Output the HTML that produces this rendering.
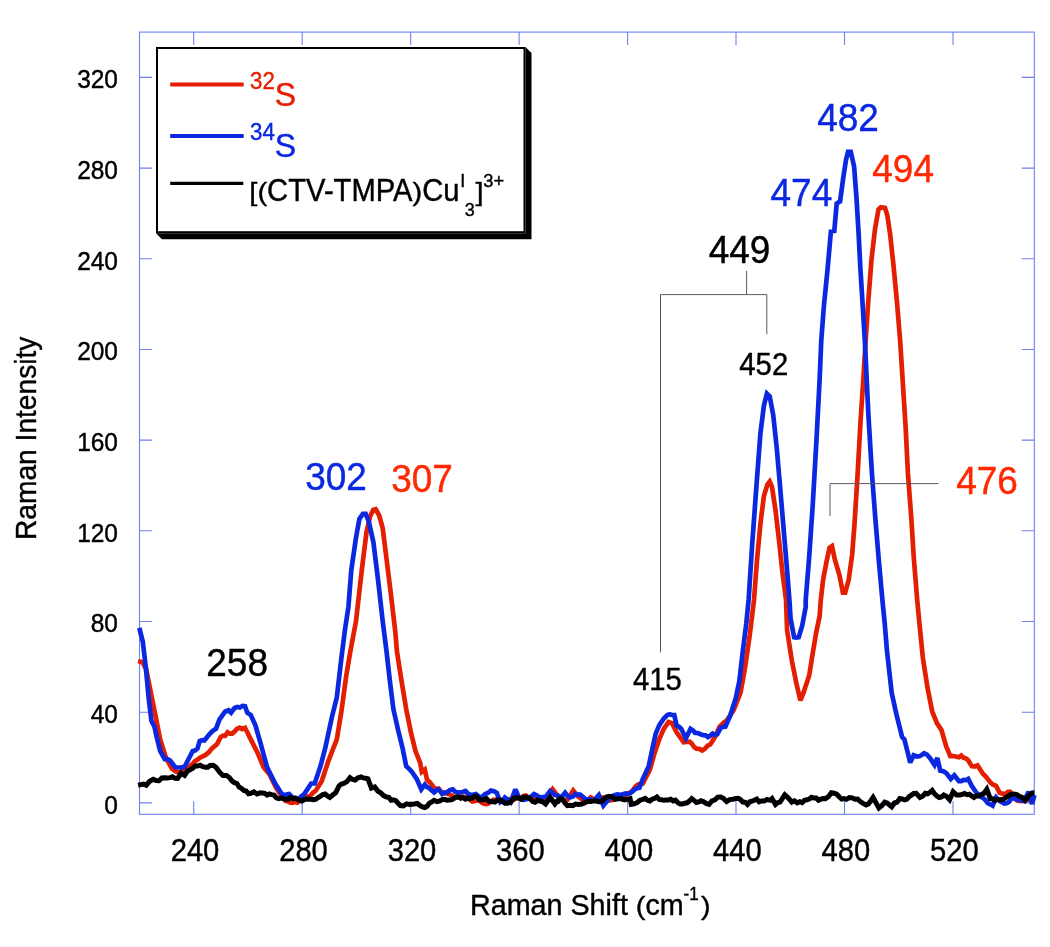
<!DOCTYPE html>
<html><head><meta charset="utf-8"><title>Raman spectra</title>
<style>
html,body{margin:0;padding:0;background:#fff;}
body{width:1050px;height:947px;overflow:hidden;}
text{stroke-width:0.4px;}
svg{display:block;font-family:"Liberation Sans",Arial,Helvetica,sans-serif;}
</style></head><body>
<svg width="1050" height="947" viewBox="0 0 1050 947">
<rect width="1050" height="947" fill="#fff"/>
<g stroke="#6c82f0" stroke-width="1.1" fill="none">
<rect x="139.5" y="32.1" width="894.8" height="782.2"/>
<path d="M193.7 32.1 v13 M193.7 814.3 v-13"/>
<path d="M302.2 32.1 v13 M302.2 814.3 v-13"/>
<path d="M410.7 32.1 v13 M410.7 814.3 v-13"/>
<path d="M519.1 32.1 v13 M519.1 814.3 v-13"/>
<path d="M627.6 32.1 v13 M627.6 814.3 v-13"/>
<path d="M736.0 32.1 v13 M736.0 814.3 v-13"/>
<path d="M844.5 32.1 v13 M844.5 814.3 v-13"/>
<path d="M953.0 32.1 v13 M953.0 814.3 v-13"/>
<path d="M139.5 802.9 h12.5 M1034.3 802.9 h-12.5"/>
<path d="M139.5 712.2 h12.5 M1034.3 712.2 h-12.5"/>
<path d="M139.5 621.5 h12.5 M1034.3 621.5 h-12.5"/>
<path d="M139.5 530.8 h12.5 M1034.3 530.8 h-12.5"/>
<path d="M139.5 440.1 h12.5 M1034.3 440.1 h-12.5"/>
<path d="M139.5 349.5 h12.5 M1034.3 349.5 h-12.5"/>
<path d="M139.5 258.8 h12.5 M1034.3 258.8 h-12.5"/>
<path d="M139.5 168.1 h12.5 M1034.3 168.1 h-12.5"/>
<path d="M139.5 77.4 h12.5 M1034.3 77.4 h-12.5"/>
</g>
<text transform="translate(118.0 813.8) scale(1 1.045)" font-size="24.5" fill="#000" stroke="#000" text-anchor="end">0</text>
<text transform="translate(118.0 723.1) scale(1 1.045)" font-size="24.5" fill="#000" stroke="#000" text-anchor="end">40</text>
<text transform="translate(118.0 632.4) scale(1 1.045)" font-size="24.5" fill="#000" stroke="#000" text-anchor="end">80</text>
<text transform="translate(118.0 541.7) scale(1 1.045)" font-size="24.5" fill="#000" stroke="#000" text-anchor="end">120</text>
<text transform="translate(118.0 451.0) scale(1 1.045)" font-size="24.5" fill="#000" stroke="#000" text-anchor="end">160</text>
<text transform="translate(118.0 360.4) scale(1 1.045)" font-size="24.5" fill="#000" stroke="#000" text-anchor="end">200</text>
<text transform="translate(118.0 269.7) scale(1 1.045)" font-size="24.5" fill="#000" stroke="#000" text-anchor="end">240</text>
<text transform="translate(118.0 179.0) scale(1 1.045)" font-size="24.5" fill="#000" stroke="#000" text-anchor="end">280</text>
<text transform="translate(118.0 88.3) scale(1 1.045)" font-size="24.5" fill="#000" stroke="#000" text-anchor="end">320</text>
<text transform="translate(195.0 861.1) scale(1 1.045)" font-size="29.2" fill="#000" stroke="#000" text-anchor="middle">240</text>
<text transform="translate(303.5 861.1) scale(1 1.045)" font-size="29.2" fill="#000" stroke="#000" text-anchor="middle">280</text>
<text transform="translate(412.0 861.1) scale(1 1.045)" font-size="29.2" fill="#000" stroke="#000" text-anchor="middle">320</text>
<text transform="translate(520.4 861.1) scale(1 1.045)" font-size="29.2" fill="#000" stroke="#000" text-anchor="middle">360</text>
<text transform="translate(628.9 861.1) scale(1 1.045)" font-size="29.2" fill="#000" stroke="#000" text-anchor="middle">400</text>
<text transform="translate(737.3 861.1) scale(1 1.045)" font-size="29.2" fill="#000" stroke="#000" text-anchor="middle">440</text>
<text transform="translate(845.8 861.1) scale(1 1.045)" font-size="29.2" fill="#000" stroke="#000" text-anchor="middle">480</text>
<text transform="translate(954.3 861.1) scale(1 1.045)" font-size="29.2" fill="#000" stroke="#000" text-anchor="middle">520</text>
<text transform="translate(36.2 438.3) rotate(-90) scale(1 1.045)" font-size="28.15" fill="#000" stroke="#000" text-anchor="middle">Raman Intensity</text>
<text transform="translate(470.0 914.6) scale(1 1.045)" font-size="28.7" fill="#000" stroke="#000">Raman Shift</text>
<text transform="translate(635.8 914.6) scale(1 0.930)" font-size="28.7" fill="#000" stroke="#000">(</text>
<text transform="translate(645.4 914.6) scale(1 1.045)" font-size="28.7" fill="#000" stroke="#000">cm</text>
<text transform="translate(683.5 899.7) scale(1 1.045)" font-size="17" fill="#000" stroke="#000">-1</text>
<text transform="translate(701.0 914.6) scale(1 0.930)" font-size="28.7" fill="#000" stroke="#000">)</text>
<g fill="none" stroke-linejoin="miter" stroke-miterlimit="2.5" stroke-linecap="butt">
<path d="M138.1 661.1 L140.5 661.8 L142.8 662.7 L146.3 669.7 L150.9 692.9 L155.6 716.2 L160.2 739.4 L166.0 758.0 L171.8 768.4 L174.1 770.3 L176.5 771.9 L179.2 772.4 L181.9 771.1 L184.6 770.7 L187.3 768.4 L190.0 766.3 L192.7 763.8 L195.0 761.2 L197.4 759.9 L199.7 758.0 L202.8 756.3 L205.9 754.7 L209.0 752.2 L211.7 748.6 L214.4 746.4 L217.1 744.0 L220.6 737.1 L222.9 735.7 L225.2 735.9 L227.6 732.4 L229.9 733.6 L232.2 733.6 L234.5 731.6 L236.9 728.9 L239.6 727.6 L242.3 729.1 L245.0 727.8 L250.8 739.4 L257.8 753.3 L263.6 767.3 L269.4 774.2 L276.4 788.2 L283.3 798.6 L285.6 800.9 L288.0 801.6 L290.3 802.6 L292.6 802.8 L294.9 801.9 L297.3 802.6 L300.2 800.2 L303.1 799.8 L305.4 798.7 L307.7 796.6 L310.0 796.3 L312.9 792.8 L315.9 790.5 L321.7 781.2 L328.6 760.3 L336.8 739.4 L341.4 711.5 L346.1 676.7 L350.0 653.4 L356.0 621.2 L361.8 570.1 L366.4 532.9 L369.9 516.7 L373.4 509.7 L375.7 509.2 L379.2 515.5 L382.7 528.3 L386.2 556.2 L390.8 593.3 L395.4 632.8 L396.9 651.1 L401.6 681.3 L406.2 709.2 L410.9 732.4 L415.5 751.0 L420.1 762.6 L421.8 771.9 L424.8 769.6 L427.1 780.0 L429.4 781.8 L431.8 784.7 L435.2 789.3 L438.7 788.6 L442.2 793.3 L444.5 792.6 L446.9 793.7 L449.2 794.0 L451.5 795.4 L453.8 797.0 L456.2 797.5 L458.5 796.6 L460.8 796.3 L463.1 797.0 L465.4 797.1 L467.8 797.5 L470.1 799.9 L472.4 801.6 L474.7 801.1 L477.1 800.3 L479.4 800.3 L481.7 802.5 L484.0 803.7 L486.4 804.0 L488.7 803.3 L491.0 801.6 L493.3 799.8 L496.4 799.6 L499.5 799.6 L502.6 800.3 L505.7 799.7 L508.8 799.1 L511.9 799.8 L514.2 799.5 L516.6 798.0 L518.9 797.5 L521.2 797.5 L523.5 796.0 L525.9 795.6 L528.2 798.1 L530.5 799.4 L532.8 800.3 L535.1 799.1 L537.5 799.4 L539.8 799.8 L542.1 799.8 L544.4 798.2 L546.8 797.5 L552.6 789.3 L556.1 794.0 L560.0 797.5 L561.6 798.6 L564.5 800.2 L567.4 799.8 L573.2 790.5 L577.9 796.3 L580.2 798.2 L582.5 799.6 L584.8 802.6 L587.8 800.3 L590.7 797.5 L593.6 799.2 L596.5 799.8 L598.8 798.6 L601.1 797.4 L603.4 797.5 L605.8 798.1 L608.1 800.3 L610.4 800.3 L612.7 799.8 L615.0 797.6 L617.4 797.5 L619.7 796.6 L622.0 795.9 L624.3 796.3 L627.2 793.7 L630.1 792.8 L633.1 789.9 L636.0 785.9 L638.3 784.4 L640.6 784.4 L642.9 783.5 L649.9 769.6 L654.5 753.3 L659.2 739.4 L663.8 728.9 L668.5 722.0 L672.0 723.1 L676.6 732.4 L683.6 742.2 L686.5 741.8 L689.4 741.7 L691.7 743.4 L694.0 746.8 L696.4 748.7 L699.3 748.9 L702.2 750.5 L704.9 748.8 L707.6 745.7 L710.3 744.5 L714.9 737.1 L719.6 726.6 L721.9 724.5 L724.2 722.2 L726.6 720.8 L733.5 710.3 L740.5 692.9 L745.1 667.4 L749.8 634.8 L754.0 600.0 L756.9 561.2 L760.4 524.0 L763.9 496.2 L767.4 484.5 L769.7 481.5 L772.0 486.9 L775.5 510.1 L779.0 540.3 L782.5 572.8 L786.0 600.0 L787.1 630.2 L791.8 660.4 L796.4 683.6 L800.4 700.4 L803.4 692.9 L809.2 675.5 L812.7 653.4 L816.2 632.5 L819.6 616.3 L820.8 600.0 L823.1 579.8 L826.6 561.2 L829.6 547.7 L832.0 546.1 L834.7 558.9 L839.4 575.1 L842.9 592.6 L845.2 592.6 L848.7 579.8 L852.2 554.2 L854.5 524.0 L857.7 472.9 L860.5 421.8 L863.3 380.0 L865.7 340.0 L868.3 301.2 L871.5 259.4 L875.0 229.2 L878.5 209.4 L880.8 207.3 L885.0 207.8 L887.3 215.2 L890.1 233.8 L893.6 266.4 L897.1 303.5 L900.1 340.0 L905.6 426.5 L907.9 472.9 L911.4 519.4 L913.7 556.6 L917.2 600.0 L919.4 623.2 L922.9 658.1 L927.6 688.3 L932.2 711.5 L936.9 723.1 L941.5 730.1 L946.2 746.4 L950.3 756.1 L953.5 756.0 L956.6 756.8 L958.9 757.2 L961.3 755.6 L963.6 757.8 L965.9 758.4 L968.2 760.3 L971.7 766.1 L974.6 766.5 L977.5 765.4 L983.3 774.2 L985.6 776.4 L988.0 779.4 L990.3 782.4 L993.2 784.8 L996.1 785.9 L999.6 792.8 L1002.5 793.7 L1005.4 794.0 L1007.7 792.0 L1010.0 791.7 L1014.7 798.6 L1017.6 800.8 L1020.5 801.0 L1022.8 800.0 L1025.1 799.7 L1027.5 799.8 L1029.8 799.6 L1032.1 797.9 L1034.4 797.5" stroke="#e41e00" stroke-width="4.7"/>
<path d="M139.3 627.9 L142.8 641.8 L145.8 667.4 L148.6 697.6 L151.4 720.8 L154.4 726.6 L156.7 737.1 L160.2 751.0 L164.8 759.1 L167.4 759.2 L170.0 760.3 L175.3 767.3 L178.4 767.5 L181.5 767.3 L184.6 766.8 L192.7 751.0 L195.0 750.5 L197.4 748.7 L199.7 741.0 L202.0 740.2 L204.3 740.5 L209.0 734.7 L211.3 732.3 L213.6 730.2 L216.0 728.9 L219.4 719.6 L225.2 711.5 L228.7 710.3 L231.1 712.7 L234.5 708.0 L237.2 707.0 L239.8 707.6 L242.4 705.9 L245.0 706.2 L247.3 712.7 L250.8 715.0 L255.4 725.4 L260.1 741.7 L267.1 767.3 L275.2 783.5 L281.0 792.8 L283.3 795.1 L286.2 794.6 L289.1 794.0 L292.6 797.5 L295.5 797.8 L298.4 799.3 L301.3 796.2 L304.2 794.0 L311.2 783.5 L314.7 783.5 L320.5 766.1 L325.1 748.7 L332.1 716.2 L336.8 697.6 L341.4 658.1 L344.9 630.2 L348.4 607.0 L351.3 570.1 L356.0 537.6 L359.4 519.0 L362.9 513.9 L365.7 513.9 L368.7 521.3 L373.4 542.2 L378.0 579.4 L382.7 621.2 L386.5 651.1 L389.9 681.3 L393.4 709.2 L398.1 730.1 L402.7 748.7 L406.2 766.1 L409.1 768.9 L412.0 771.9 L416.7 778.9 L421.3 789.3 L424.8 784.7 L427.1 787.1 L429.4 788.2 L431.8 790.5 L434.1 792.4 L437.6 789.3 L439.9 790.7 L442.2 794.0 L444.5 792.7 L446.9 792.4 L449.8 790.1 L452.7 789.3 L455.0 791.6 L457.3 792.4 L460.0 792.5 L462.7 792.0 L465.4 791.0 L467.8 793.5 L470.1 794.7 L473.0 794.8 L475.9 794.0 L478.8 796.6 L481.7 797.5 L485.2 794.0 L488.1 792.8 L491.0 790.5 L493.9 791.2 L496.8 792.8 L500.3 802.1 L502.6 800.5 L504.9 797.5 L507.8 799.8 L510.7 802.1 L515.4 789.3 L518.9 797.5 L521.2 799.1 L523.5 799.8 L526.4 799.3 L529.3 798.6 L531.7 796.2 L534.0 794.0 L536.9 795.5 L539.8 797.5 L542.7 797.1 L545.6 797.0 L550.2 791.0 L552.6 792.7 L554.9 795.1 L557.4 795.5 L560.0 797.5 L562.6 795.8 L565.1 792.8 L567.4 795.7 L569.7 797.5 L572.7 796.7 L575.6 794.0 L577.9 794.7 L580.2 794.7 L582.5 796.5 L584.8 798.6 L587.2 799.8 L589.5 799.2 L591.8 800.5 L594.1 800.3 L596.5 797.6 L598.8 795.1 L603.4 805.6 L609.2 798.6 L612.1 796.2 L615.0 795.1 L617.4 794.4 L619.7 794.9 L622.0 794.7 L624.7 793.7 L627.4 793.7 L630.1 793.3 L632.5 791.5 L634.8 789.3 L637.1 788.3 L639.4 787.7 L642.9 778.9 L648.7 766.1 L653.4 744.0 L655.7 733.6 L659.2 725.4 L663.8 718.5 L667.3 715.0 L669.6 714.3 L672.0 715.0 L674.3 715.0 L676.6 725.4 L678.9 726.7 L681.3 728.9 L685.9 738.2 L690.5 728.9 L692.9 730.4 L695.2 732.9 L697.9 733.0 L700.6 734.2 L703.3 735.2 L705.6 735.3 L708.0 737.1 L710.3 735.6 L712.6 733.6 L714.9 734.8 L717.3 734.3 L720.7 727.8 L723.1 727.0 L725.4 726.6 L730.0 716.2 L735.9 697.6 L739.3 681.3 L742.8 651.1 L746.3 623.2 L748.6 600.0 L752.3 542.6 L756.9 479.9 L760.4 433.4 L763.9 405.6 L766.9 393.5 L769.7 396.3 L773.2 414.8 L776.7 447.4 L780.1 486.9 L783.6 528.7 L787.1 570.5 L789.4 600.0 L790.6 618.6 L794.1 637.2 L796.4 637.6 L798.7 637.2 L802.2 625.6 L805.7 607.0 L805.7 600.0 L809.2 556.6 L812.7 505.4 L816.2 445.0 L819.6 380.0 L821.3 340.0 L823.9 305.9 L827.4 271.0 L830.9 231.5 L834.3 231.0 L836.7 203.6 L840.1 201.3 L843.2 178.1 L846.0 160.0 L848.0 151.8 L850.8 151.8 L854.1 166.5 L856.4 196.7 L858.5 231.5 L860.4 268.7 L862.7 305.9 L864.8 340.0 L868.4 414.8 L871.9 472.9 L875.4 519.4 L878.9 561.2 L882.4 600.0 L884.7 623.2 L887.0 651.1 L891.7 692.9 L896.3 713.8 L902.1 737.1 L904.4 739.4 L907.9 753.3 L910.2 762.6 L913.7 755.2 L916.9 756.5 L920.0 756.1 L924.1 753.3 L927.0 754.7 L929.9 758.0 L934.5 764.9 L937.3 758.0 L940.3 770.7 L943.3 771.2 L946.2 773.1 L950.8 778.9 L954.3 775.4 L958.9 781.2 L961.3 781.2 L963.6 780.0 L965.9 780.1 L968.2 778.9 L971.7 785.9 L976.4 792.8 L979.3 795.4 L982.2 797.5 L985.1 799.7 L988.0 803.3 L990.3 804.3 L992.6 805.6 L996.1 797.5 L999.0 800.5 L1001.9 802.1 L1004.2 803.5 L1006.6 803.3 L1008.9 801.9 L1011.2 798.8 L1013.5 797.5 L1015.9 799.3 L1018.2 799.8 L1021.1 800.1 L1024.0 801.0 L1028.6 791.7 L1032.1 804.0 L1034.4 795.1" stroke="#0a28e0" stroke-width="4.7"/>
<path d="M138.1 785.2 L140.8 784.6 L143.6 784.1 L146.3 785.2 L149.7 781.2 L153.2 779.3 L156.1 780.5 L159.0 780.7 L161.9 777.9 L164.8 777.7 L167.4 778.0 L170.0 777.6 L172.5 776.8 L175.1 778.3 L177.6 778.4 L181.1 773.1 L184.6 775.4 L187.5 771.1 L190.4 769.6 L192.7 768.2 L195.0 766.0 L197.4 766.1 L200.1 765.3 L202.8 766.7 L205.5 767.3 L207.8 767.3 L210.1 765.4 L213.1 765.2 L216.0 767.3 L219.4 771.9 L222.9 775.4 L226.4 775.4 L229.3 777.5 L232.2 781.2 L234.5 782.7 L236.9 783.5 L239.2 787.2 L241.5 788.4 L243.8 790.5 L246.2 791.1 L248.5 793.8 L250.8 793.3 L253.9 791.8 L257.0 794.0 L260.1 792.8 L262.4 793.0 L264.7 793.3 L267.1 795.1 L269.4 794.0 L271.7 794.6 L274.0 795.1 L276.4 797.8 L278.7 798.6 L281.8 797.9 L284.9 799.3 L288.0 799.3 L290.3 797.5 L292.6 798.5 L294.9 798.3 L297.3 799.3 L299.6 800.3 L301.9 801.0 L304.8 799.3 L307.7 799.0 L310.6 799.2 L313.5 799.8 L315.9 799.2 L318.2 797.5 L320.5 796.1 L322.8 794.6 L325.1 794.0 L327.5 796.0 L329.8 797.5 L332.7 795.0 L335.6 792.8 L339.1 785.9 L341.4 784.1 L343.7 783.5 L346.9 781.5 L350.0 777.7 L352.6 779.5 L355.1 780.0 L358.0 777.8 L360.9 777.0 L363.2 777.9 L365.6 778.3 L367.9 778.9 L371.4 788.2 L374.8 787.0 L377.8 791.0 L380.7 792.8 L383.6 795.6 L386.5 797.0 L388.8 797.3 L391.1 800.3 L393.4 799.8 L395.8 800.6 L398.1 803.4 L400.4 805.6 L403.5 806.0 L406.6 803.8 L409.7 804.4 L412.0 804.2 L414.3 804.0 L417.2 803.4 L420.1 805.6 L422.5 807.0 L424.8 807.5 L427.1 806.2 L429.4 803.3 L431.8 802.0 L434.1 800.3 L437.0 801.7 L439.9 801.0 L442.2 799.6 L444.5 799.3 L446.9 800.1 L449.2 799.9 L451.5 799.8 L453.8 798.6 L456.2 797.0 L458.5 797.0 L460.8 798.3 L463.1 797.5 L465.4 799.2 L467.8 798.2 L470.1 798.6 L472.4 798.0 L474.7 796.3 L477.1 796.7 L479.4 799.8 L481.7 800.0 L484.0 799.5 L486.4 798.6 L489.3 801.6 L492.2 801.6 L494.9 802.1 L497.6 800.1 L500.3 800.3 L502.6 801.4 L504.9 803.3 L507.8 803.2 L510.7 802.1 L513.7 798.4 L516.6 797.5 L518.9 798.3 L521.2 799.3 L523.5 797.2 L525.9 797.0 L528.2 797.4 L530.5 798.8 L532.8 801.6 L535.1 802.2 L537.5 800.1 L539.8 801.0 L542.7 801.7 L545.6 804.0 L550.2 797.5 L554.9 804.0 L557.4 801.0 L560.0 798.6 L555.8 802.1 L558.1 801.5 L560.5 798.6 L562.8 799.7 L565.1 803.1 L567.4 805.6 L570.1 805.2 L572.8 805.7 L575.6 804.0 L578.7 804.5 L581.7 804.1 L584.8 802.6 L587.8 801.5 L590.7 801.5 L593.6 800.9 L596.5 801.0 L598.8 801.7 L601.1 801.5 L603.4 799.8 L606.3 797.0 L609.2 796.3 L612.1 796.8 L615.0 799.3 L618.1 798.7 L621.2 798.8 L624.3 799.8 L627.2 799.2 L630.1 798.6 L631.3 804.4 L634.2 803.8 L637.1 802.6 L640.0 800.2 L642.9 799.3 L645.2 798.4 L647.6 800.2 L649.9 801.0 L652.2 799.2 L654.5 798.5 L656.9 797.0 L659.2 799.4 L661.5 799.7 L663.8 800.3 L666.2 800.0 L668.5 800.0 L670.8 799.3 L673.1 800.9 L675.4 800.2 L677.8 802.6 L680.1 804.0 L682.4 803.9 L684.7 803.3 L687.1 802.8 L689.4 801.1 L691.7 798.6 L694.0 800.3 L696.4 802.6 L698.7 802.0 L701.0 800.8 L703.3 801.6 L706.2 803.4 L709.1 804.4 L712.0 800.8 L714.9 799.8 L717.8 797.1 L720.7 797.0 L723.7 798.5 L726.6 801.6 L729.7 799.6 L732.8 799.2 L735.9 798.6 L738.2 798.4 L740.5 799.5 L742.8 802.1 L745.1 802.2 L747.5 804.4 L749.8 801.8 L752.1 801.2 L754.4 800.3 L756.8 799.1 L759.1 801.8 L761.4 801.0 L764.3 801.1 L767.1 799.4 L770.0 800.3 L772.0 798.6 L775.5 804.4 L777.8 802.5 L780.1 802.1 L784.8 794.7 L787.1 796.7 L789.4 799.2 L791.8 802.1 L794.5 800.8 L797.2 802.8 L799.9 801.6 L802.2 802.5 L804.5 800.3 L806.9 799.8 L809.2 799.1 L811.5 797.3 L813.8 797.9 L816.2 797.9 L818.5 800.3 L820.8 799.2 L823.1 798.5 L825.4 798.6 L828.4 796.7 L831.3 792.8 L834.0 793.2 L836.7 794.2 L839.4 797.0 L841.7 799.1 L844.0 798.6 L846.4 799.3 L849.3 797.6 L852.2 797.9 L854.9 799.3 L857.6 799.0 L860.3 801.6 L863.2 803.4 L866.1 804.9 L868.4 803.9 L870.7 801.0 L873.1 797.5 L878.9 807.9 L881.8 805.6 L884.7 802.1 L887.0 802.9 L889.3 804.8 L891.7 806.8 L894.4 803.0 L897.1 802.2 L899.8 798.6 L902.1 799.0 L904.4 799.9 L906.8 799.3 L909.1 796.7 L911.4 795.1 L913.7 793.4 L916.1 793.3 L920.0 797.5 L922.6 796.3 L925.2 793.3 L927.6 793.8 L929.9 792.5 L932.2 790.5 L934.5 793.7 L936.9 796.1 L939.2 797.5 L941.5 797.0 L943.8 795.1 L946.7 796.6 L949.6 799.8 L953.1 791.7 L956.6 795.1 L959.2 795.1 L961.8 794.5 L964.5 793.4 L967.1 794.7 L969.4 794.2 L971.7 795.9 L974.0 797.5 L976.4 795.8 L978.7 796.2 L981.0 794.7 L983.9 793.4 L986.8 789.3 L990.3 798.6 L992.6 798.7 L994.9 800.4 L997.3 799.3 L1000.4 800.0 L1003.5 799.1 L1006.6 797.0 L1008.9 795.6 L1011.2 794.1 L1013.5 794.0 L1016.4 794.3 L1019.3 796.3 L1022.2 797.4 L1025.1 800.3 L1029.8 794.7 L1032.1 792.9 L1034.4 792.8" stroke="#000" stroke-width="5"/>
</g>
<text transform="translate(206.3 675.5) scale(1 1.045)" font-size="37.0" fill="#000" stroke="#000">258</text>
<text transform="translate(708.7 263.0) scale(1 1.045)" font-size="37.0" fill="#000" stroke="#000">449</text>
<text transform="translate(633.0 689.9) scale(1 1.045)" font-size="29.3" fill="#000" stroke="#000">415</text>
<text transform="translate(739.3 375.1) scale(1 1.045)" font-size="29.3" fill="#000" stroke="#000">452</text>
<text transform="translate(305.2 490.0) scale(1 1.045)" font-size="37.0" fill="#0a28e0" stroke="#0a28e0">302</text>
<text transform="translate(770.5 205.5) scale(1 1.045)" font-size="37.0" fill="#0a28e0" stroke="#0a28e0">474</text>
<text transform="translate(817.2 130.6) scale(1 1.045)" font-size="37.0" fill="#0a28e0" stroke="#0a28e0">482</text>
<text transform="translate(391.2 491.9) scale(1 1.045)" font-size="37.0" fill="#ff2800" stroke="#ff2800">307</text>
<text transform="translate(872.3 181.5) scale(1 1.045)" font-size="37.0" fill="#ff2800" stroke="#ff2800">494</text>
<text transform="translate(956.2 493.5) scale(1 1.045)" font-size="37.0" fill="#ff2800" stroke="#ff2800">476</text>
<g stroke="#5a5a5a" stroke-width="1" fill="none">
<path d="M660.5 652.3 V294.6 H766.8 V334.3 M746.6 294.6 V270.9"/>
<path d="M830 516 V483.6 H938.4"/>
</g>
<path d="M525.5 47 L531.5 53 V239.2 H162 L156 233.2 H525.5 Z" fill="#000"/>
<rect x="157" y="48" width="367.5" height="184.2" fill="#fff" stroke="#000" stroke-width="2"/>
<g fill="none">
<path d="M170.2 84.6 H243.7" stroke="#e41e00" stroke-width="4"/>
<path d="M170.2 136 H243.7" stroke="#0a28e0" stroke-width="4"/>
<path d="M170.2 183.3 H243.3" stroke="#000" stroke-width="3.2"/>
</g>
<text transform="translate(250.0 88.7) scale(1 1.045)" font-size="22.3" fill="#e41e00" stroke="#e41e00">32<tspan font-size="32" dy="16.36">S</tspan></text>
<text transform="translate(250.0 139.6) scale(1 1.045)" font-size="22.3" fill="#0a28e0" stroke="#0a28e0">34<tspan font-size="32" dy="16.17">S</tspan></text>
<text transform="translate(249.3 201.4) scale(1 0.900)" font-size="29.2" fill="#000" stroke="#000">[(</text>
<text transform="translate(267.1 201.4) scale(1 1.045)" font-size="29.2" fill="#000" stroke="#000">CTV-TMPA</text>
<text transform="translate(412.5 201.4) scale(1 0.900)" font-size="29.2" fill="#000" stroke="#000">)</text>
<text transform="translate(422.2 201.4) scale(1 1.045)" font-size="29.2" fill="#000" stroke="#000">Cu</text>
<text transform="translate(460.3 186.8) scale(1 1.045)" font-size="18" fill="#000" stroke="#000">I</text>
<text transform="translate(464.8 216.2) scale(1 1.045)" font-size="18" fill="#000" stroke="#000">3</text>
<text transform="translate(475.4 201.4) scale(1 0.900)" font-size="29.2" fill="#000" stroke="#000">]</text>
<text transform="translate(483.3 187.2) scale(1 1.045)" font-size="18.3" fill="#000" stroke="#000">3+</text>
</svg>
</body></html>
